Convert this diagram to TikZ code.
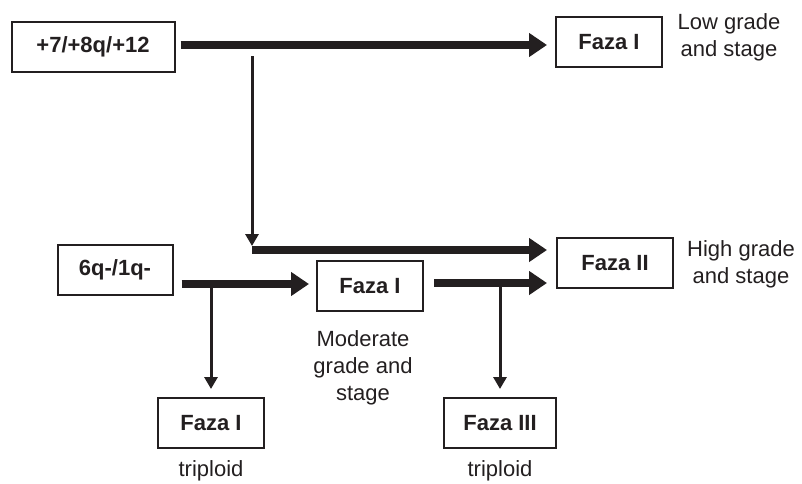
\documentclass[tikz,border=0pt]{standalone}
\usepackage{fontspec}
\setmainfont{Liberation Sans}
\usetikzlibrary{positioning, arrows.meta}
\definecolor{inkgray}{HTML}{231F20}

\begin{document}
\begin{tikzpicture}[x=1pt, y=-1pt,
        box/.style={draw=inkgray, line width=2pt, minimum width=106pt, minimum height=50pt,
            inner xsep=10pt, font=\fontsize{22}{26}\selectfont\bfseries, text=inkgray},
        note/.style={align=center, font=\fontsize{22}{27}\selectfont, text=inkgray},
        flow/.style={draw=inkgray, line width=8pt, -{Triangle[length=18pt, width=23pt]}},
        drop/.style={draw=inkgray, line width=3pt, -{Triangle[length=12pt, width=13pt]}}
    ]
      \useasboundingbox (0,0) rectangle (802,483);

      % Upper branch
      \node[box, minimum width=163pt] (trisomy) at (93,47) {+7/+8q/+12};
      \node[box] (lowI) at (609,42) {Faza I};
      \node[note] at (729,37) {Low grade\\and stage};
      \draw[flow, shorten <=5pt, shorten >=8pt] (trisomy.east |- 0,45) -- (lowI.west |- 0,45);

      % Drop to high grade
      \coordinate (split) at (252,56);
      \coordinate (join) at (252,246);
      \coordinate (start) at (252,250);
      \node[box, minimum width=116pt] (highII) at (615,263) {Faza II};
      \node[note] at (741,264) {High grade\\and stage};
      \draw[drop] (split) -- (join);
      \draw[flow, shorten >=9pt] (start) -- (start -| highII.west);

      % Lower branch
      \node[box, minimum width=115pt] (loss) at (115,270) {6q-/1q-};
      \node[box] (modI) at (370,286) {Faza I};
      \node[note] at (363,368) {Moderate\\grade and\\stage};
      \draw[flow, shorten <=8pt, shorten >=7pt] (loss.east |- 0,284) -- (modI.west |- 0,284);
      \draw[flow, shorten <=10pt, shorten >=9pt] (modI.east |- 0,283) -- (highII.west |- 0,283);

      % Triploid outcomes
      \node[box] (triI) at (211,423) {Faza I};
      \node[note] at (211,471) {triploid};
      \node[box, minimum width=112pt] (triIII) at (500,423) {Faza III};
      \node[note] at (500,471) {triploid};
      \draw[drop, shorten >=8pt] (211,284) -- (triI.north);
      \draw[drop, shorten >=8pt] (500,283) -- (triIII.north);
    \end{tikzpicture}
\end{document}
